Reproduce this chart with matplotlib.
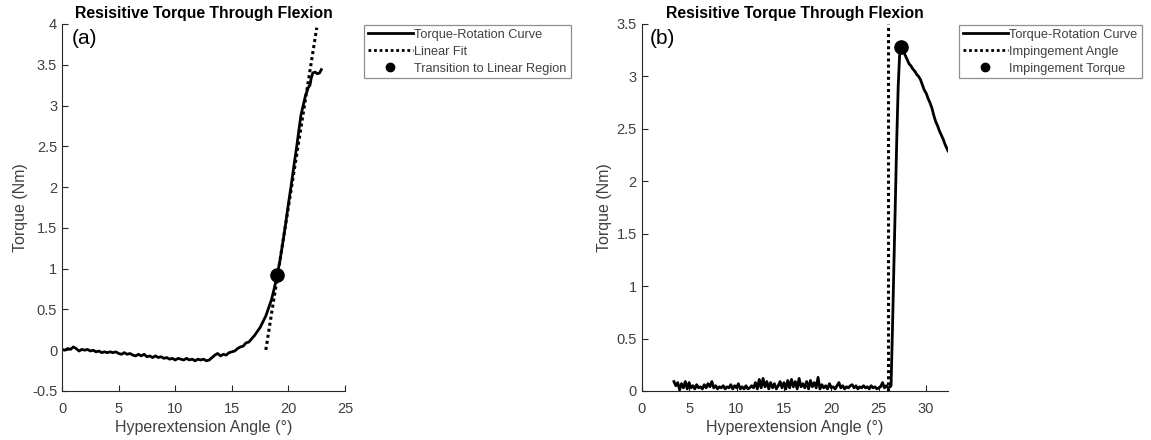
import numpy as np
import matplotlib
matplotlib.use("Agg")
import matplotlib.pyplot as plt
from matplotlib.lines import Line2D

plt.rcParams['font.family'] = ['Liberation Sans', 'DejaVu Sans']

# ---------------- Panel (a): torque vs hyperextension angle ----------------
a_angle_flat = np.arange(0.0, 15.01, 0.25)
a_torque_flat = [0.01, 0.00, 0.02, 0.01, 0.04, 0.02, -0.01, 0.01, 0.00, 0.01,
                 -0.01, 0.00, -0.02, -0.01, -0.03, -0.02, -0.03, -0.02, -0.03, -0.02,
                 -0.04, -0.05, -0.03, -0.05, -0.04, -0.06, -0.07, -0.05, -0.07, -0.05,
                 -0.08, -0.07, -0.09, -0.07, -0.09, -0.08, -0.10, -0.09, -0.11, -0.10,
                 -0.12, -0.10, -0.11, -0.12, -0.10, -0.12, -0.11, -0.13, -0.11, -0.12,
                 -0.11, -0.13, -0.12, -0.09, -0.06, -0.04, -0.07, -0.05, -0.06, -0.03,
                 -0.02]
a_angle_rise = [15.25, 15.5, 15.75, 16.0, 16.25, 16.5, 16.75, 17.0, 17.25, 17.5,
                17.75, 18.0, 18.25, 18.5, 18.75, 19.0, 19.25, 19.5, 19.75, 20.0,
                20.25, 20.5, 20.75, 21.0, 21.1, 21.25, 21.5, 21.75, 21.9, 22.0,
                22.15, 22.35, 22.55, 22.75, 22.9]
a_torque_rise = [-0.01, 0.02, 0.04, 0.05, 0.09, 0.10, 0.14, 0.18, 0.23, 0.28,
                 0.35, 0.42, 0.52, 0.62, 0.76, 0.92, 1.10, 1.32, 1.55, 1.80,
                 2.03, 2.28, 2.52, 2.78, 2.88, 2.97, 3.12, 3.22, 3.25, 3.33,
                 3.40, 3.41, 3.39, 3.40, 3.44]

fit_slope = 0.878
fit_intercept = -15.80
fit_angles = [18.0, 22.5]

transition_angle = 19.0
transition_torque = 0.92

# ---------------- Panel (b): impingement ----------------
b_angle_flat = np.arange(3.4, 26.21, 0.2)
b_torque_flat = [0.09, 0.05, 0.08, 0.01, 0.07, 0.03, 0.09, 0.02, 0.08, 0.03,
                 0.05, 0.02, 0.06, 0.03, 0.04, 0.02, 0.06, 0.03, 0.07, 0.04,
                 0.09, 0.03, 0.05, 0.02, 0.04, 0.03, 0.05, 0.02, 0.04, 0.03,
                 0.06, 0.02, 0.05, 0.03, 0.07, 0.02, 0.04, 0.02, 0.05, 0.02,
                 0.03, 0.05, 0.03, 0.08, 0.02, 0.11, 0.03, 0.12, 0.04, 0.09,
                 0.02, 0.08, 0.03, 0.07, 0.02, 0.05, 0.09, 0.03, 0.08, 0.02,
                 0.10, 0.03, 0.11, 0.04, 0.09, 0.02, 0.12, 0.04, 0.07, 0.03,
                 0.09, 0.02, 0.10, 0.04, 0.08, 0.03, 0.13, 0.02, 0.06, 0.03,
                 0.05, 0.02, 0.07, 0.03, 0.04, 0.02, 0.05, 0.08, 0.03, 0.05,
                 0.02, 0.04, 0.03, 0.05, 0.06, 0.03, 0.05, 0.02, 0.04, 0.03,
                 0.05, 0.03, 0.04, 0.02, 0.05, 0.03, 0.04, 0.02, 0.03, 0.04,
                 0.08, 0.03, 0.05, 0.03, 0.04]
b_angle_peak = [26.3, 26.45, 26.6, 26.75, 26.9, 27.05, 27.2, 27.4,
                27.6, 27.8, 28.0, 28.2, 28.4, 28.6, 28.8, 29.0, 29.2, 29.4,
                29.6, 29.8, 30.0, 30.2, 30.4, 30.6, 30.8, 31.0, 31.2, 31.4,
                31.6, 31.8, 32.0, 32.3]
b_torque_peak = [0.05, 0.60, 1.20, 1.80, 2.40, 2.90, 3.20, 3.28,
                 3.24, 3.20, 3.16, 3.12, 3.10, 3.07, 3.05, 3.02, 3.00, 2.97,
                 2.92, 2.87, 2.84, 2.79, 2.75, 2.70, 2.63, 2.57, 2.53, 2.48,
                 2.44, 2.40, 2.35, 2.29]

impingement_angle = 26.0
impingement_peak_angle = 27.4
impingement_torque = 3.28

title = "Resisitive Torque Through Flexion"
xlabel = "Hyperextension Angle (\u00b0)"
ylabel = "Torque (Nm)"

axis_gray = (0.15, 0.15, 0.15)
tick_gray = (0.25, 0.25, 0.25)

fig = plt.figure(figsize=(11.51, 4.40), dpi=100)
ax_a = fig.add_axes([0.0539, 0.1114, 0.2459, 0.8341])
ax_b = fig.add_axes([0.5575, 0.1114, 0.2661, 0.8341])

line_kw = dict(color='black', lw=2.0, solid_joinstyle='round')
dot_kw = dict(color='black', lw=2.2, linestyle=(0, (1, 1)))


def style_axes(ax):
    for side in ('top', 'right'):
        ax.spines[side].set_visible(False)
    for side in ('left', 'bottom'):
        ax.spines[side].set_color(axis_gray)
        ax.spines[side].set_linewidth(0.8)
    ax.tick_params(direction='in', length=4, width=0.8, colors=axis_gray,
                   labelcolor=tick_gray, labelsize=10.5)
    ax.tick_params(axis='x', pad=8)
    ax.set_title(title, fontsize=11.3, fontweight='bold', pad=4)
    ax.set_xlabel(xlabel, fontsize=11.5, color=tick_gray, labelpad=3)
    ax.set_ylabel(ylabel, fontsize=11.5, color=tick_gray, labelpad=3)


# Panel (a)
a_angles = list(a_angle_flat) + a_angle_rise
a_torques = a_torque_flat + a_torque_rise
ax_a.plot(a_angles, a_torques, **line_kw)
fx = np.array(fit_angles)
ax_a.plot(fx, fit_slope * fx + fit_intercept, **dot_kw)
ax_a.plot([transition_angle], [transition_torque], 'o', color='black', ms=9.5)
ax_a.set_xlim(0, 25)
ax_a.set_ylim(-0.5, 4)
ax_a.set_xticks([0, 5, 10, 15, 20, 25])
ax_a.set_yticks([-0.5, 0, 0.5, 1, 1.5, 2, 2.5, 3, 3.5, 4])
ax_a.set_yticklabels(['-0.5', '0', '0.5', '1', '1.5', '2', '2.5', '3', '3.5', '4'])
style_axes(ax_a)
ax_a.text(0.035, 0.985, '(a)', transform=ax_a.transAxes, fontsize=15, va='top', ha='left')

# Panel (b)
b_angles = list(b_angle_flat) + b_angle_peak
b_torques = b_torque_flat + b_torque_peak
ax_b.plot(b_angles, b_torques, **line_kw)
ax_b.plot([impingement_angle, impingement_angle], [0, 3.5], **dot_kw)
ax_b.plot([impingement_peak_angle], [impingement_torque], 'o', color='black', ms=9.5)
ax_b.set_xlim(0, 32.3)
ax_b.set_ylim(0, 3.5)
ax_b.set_xticks([0, 5, 10, 15, 20, 25, 30])
ax_b.set_yticks([0, 0.5, 1, 1.5, 2, 2.5, 3, 3.5])
ax_b.set_yticklabels(['0', '0.5', '1', '1.5', '2', '2.5', '3', '3.5'])
style_axes(ax_b)
ax_b.text(0.025, 0.985, '(b)', transform=ax_b.transAxes, fontsize=15, va='top', ha='left')


def add_legend(ax, labels, anchor):
    handles = [Line2D([], [], color='black', lw=2.0),
               Line2D([], [], color='black', lw=2.0, linestyle=(0, (1, 1))),
               Line2D([], [], color='black', lw=0, marker='o', ms=6)]
    leg = fig.legend(handles, labels, loc='upper left', bbox_to_anchor=anchor,
                     bbox_transform=fig.transFigure, fontsize=9.2,
                     frameon=True, fancybox=False, handlelength=3.5,
                     handletextpad=0.15, labelspacing=0.38, borderpad=0.3,
                     borderaxespad=0.0)
    frame = leg.get_frame()
    frame.set_edgecolor((0.45, 0.45, 0.45))
    frame.set_linewidth(0.9)
    for t in leg.get_texts():
        t.set_color(tick_gray)
    return leg


add_legend(ax_a, ["Torque-Rotation Curve", "Linear Fit", "Transition to Linear Region"],
           (364 / 1151, 1 - 25 / 440))
add_legend(ax_b, ["Torque-Rotation Curve", "Impingement Angle", "Impingement Torque"],
           (959 / 1151, 1 - 25 / 440))

fig.savefig("out.png", dpi=100)
